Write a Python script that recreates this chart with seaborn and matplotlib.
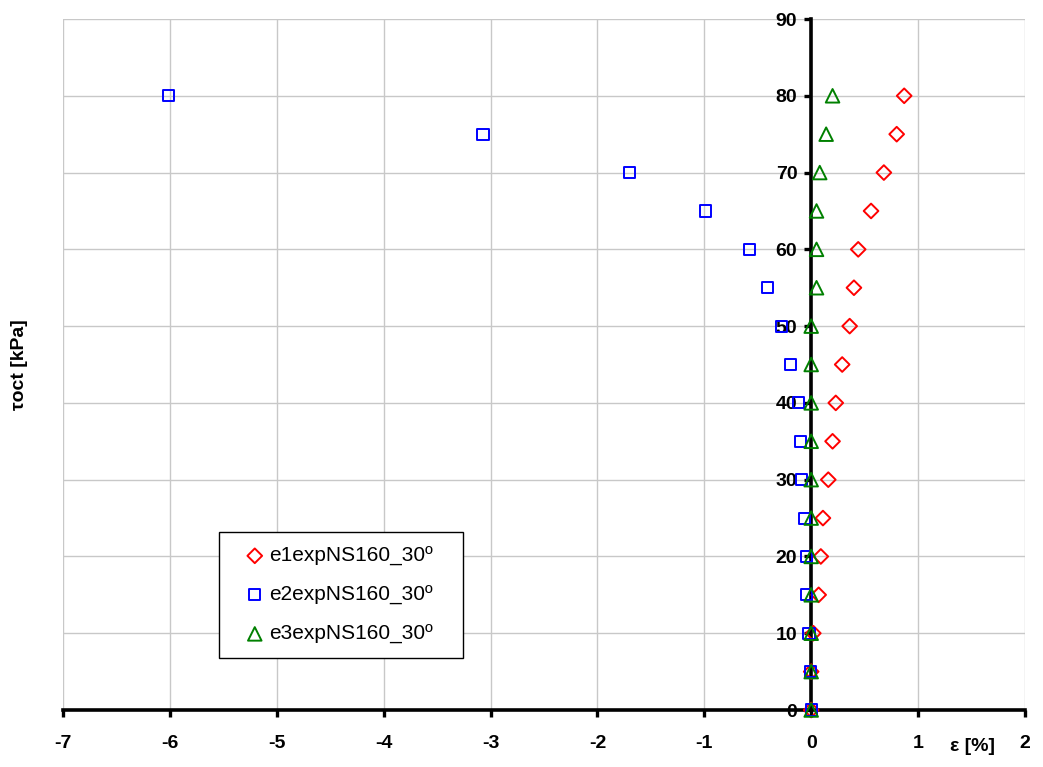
import matplotlib
matplotlib.use("Agg")
import matplotlib.pyplot as plt
import seaborn as sns
import pandas as pd

# Octahedral shear stress levels [kPa]
tau_oct = [0, 5, 10, 15, 20, 25, 30, 35, 40, 45, 50, 55, 60, 65, 70, 75, 80]

# Principal strains [%] at each stress level
e1 = [0.00, 0.00, 0.02, 0.07, 0.09, 0.11, 0.16, 0.20, 0.23, 0.29,
      0.36, 0.40, 0.44, 0.56, 0.68, 0.80, 0.87]
e2 = [0.00, -0.01, -0.02, -0.04, -0.04, -0.06, -0.09, -0.10, -0.12, -0.19,
      -0.28, -0.41, -0.58, -0.99, -1.70, -3.07, -6.01]
e3 = [0.00, 0.00, 0.00, 0.00, 0.00, 0.00, 0.00, 0.00, 0.00, 0.00,
      0.00, 0.05, 0.05, 0.05, 0.08, 0.14, 0.20]

series_names = ["e1expNS160_30º", "e2expNS160_30º", "e3expNS160_30º"]
series_values = [e1, e2, e3]
series_colors = ["#FF0000", "#0000FF", "#008000"]
series_markers = ["D", "s", "^"]
series_sizes = [56, 64, 95]

x_ticks = list(range(-7, 3))
y_ticks = list(range(0, 100, 10))

sns.set_theme(style="white")
plt.rcParams["font.family"] = ["Liberation Sans", "DejaVu Sans"]
plt.rcParams["text.color"] = "black"
plt.rcParams["axes.labelcolor"] = "black"

fig = plt.figure(figsize=(10.43, 7.67), dpi=100)
ax = fig.add_axes([0.0604, 0.0743, 0.9223, 0.9009])

handles = []
for name, vals, col, mk, sz in zip(series_names, series_values, series_colors,
                                   series_markers, series_sizes):
    df = pd.DataFrame({"eps": vals, "tau": tau_oct})
    n_before = len(ax.collections)
    sns.scatterplot(data=df, x="eps", y="tau", ax=ax, marker=mk, s=sz,
                    color=col, linewidth=1.4, zorder=4, clip_on=False,
                    legend=False)
    coll = ax.collections[n_before]
    coll.set_facecolor("none")
    coll.set_edgecolor(col)
    handles.append(coll)

ax.set_xlim(-7, 2)
ax.set_ylim(0, 90)
ax.set_xticks(x_ticks)
ax.set_yticks(y_ticks)
ax.set_xticklabels([str(v) for v in x_ticks])
ax.set_yticklabels([str(v) for v in y_ticks])

ax.grid(True, color="#c8c8c8", linewidth=1.0)
ax.set_axisbelow(True)

# Axes cross at the origin
ax.spines["left"].set_position(("data", 0))
ax.spines["bottom"].set_position(("data", 0))
ax.spines["top"].set_visible(False)
ax.spines["right"].set_visible(False)
for side in ("left", "bottom"):
    ax.spines[side].set_linewidth(2.6)
    ax.spines[side].set_color("black")
    ax.spines[side].set_zorder(3)

ax.tick_params(axis="both", which="major", direction="out", length=5,
               width=2.4, color="black", labelsize=14, labelcolor="black",
               left=True, bottom=True)
ax.tick_params(axis="y", pad=5)
ax.tick_params(axis="x", pad=13)
for lab in ax.get_xticklabels() + ax.get_yticklabels():
    lab.set_fontweight("bold")

ax.set_xlabel("ε [%]", fontsize=14, fontweight="bold")
ax.set_ylabel("τoct [kPa]", fontsize=14, fontweight="bold")
ax.xaxis.set_label_coords(0.945, -0.041)
ax.yaxis.set_label_coords(-0.036, 0.5)

leg = ax.legend(handles, series_names, loc="lower left",
                bbox_to_anchor=(0.162, 0.075, 0.254, 0.18), mode="expand",
                borderaxespad=0, fontsize=15, frameon=True, fancybox=False,
                handlelength=2.05, handletextpad=-0.35, labelspacing=0.95,
                borderpad=0.7)
leg.get_frame().set_edgecolor("black")
leg.get_frame().set_linewidth(1.0)
leg.get_frame().set_facecolor("white")
leg.get_frame().set_alpha(1.0)
leg.set_zorder(5)

fig.savefig("out.png", dpi=100, facecolor="white")
